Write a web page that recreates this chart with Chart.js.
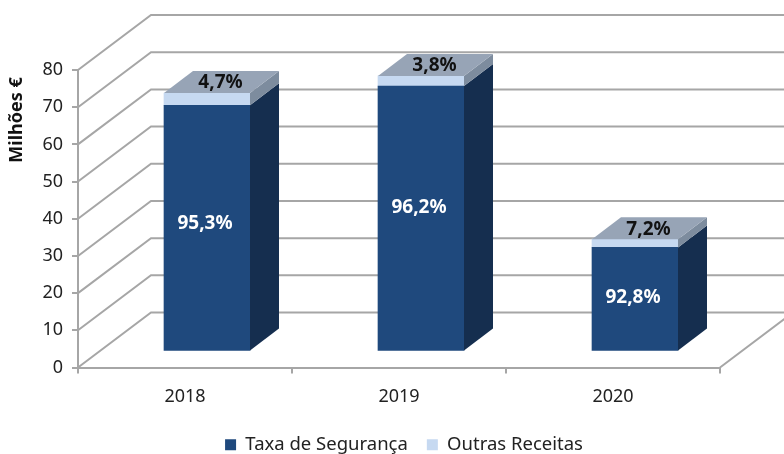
<!DOCTYPE html>
<html>
<head>
<meta charset="utf-8">
<style>
  html, body { margin: 0; padding: 0; background: #fff; }
  canvas { display: block; }
</style>
<script src="https://cdn.jsdelivr.net/npm/chart.js@4"></script>
</head>
<body>
<canvas id="receitas" width="784" height="454"></canvas>
<script>
const years = ["2018", "2019", "2020"];
const taxaSeguranca = [66.2, 71.4, 28.0];
const outrasReceitas = [3.3, 2.7, 2.2];
const taxaLabels = ["95,3%", "96,2%", "92,8%"];
const outrasLabels = ["4,7%", "3,8%", "7,2%"];
const yTicks = [0, 10, 20, 30, 40, 50, 60, 70, 80];

const font = "'Noto Sans', sans-serif";
const gridColor = "#a6a6a6";

// fake 3D: how far the back wall and the bar depth are shifted, in px
const wall = { dx: 73, dy: -55 };
const barShift = { dx: 22, dy: -16 };
const barDepth = { dx: 29, dy: -22 };
const labelLift = [4, 11, 1];

function face(ctx, pts, color) {
  ctx.fillStyle = color;
  ctx.beginPath();
  pts.forEach((p, i) => (i ? ctx.lineTo(p[0], p[1]) : ctx.moveTo(p[0], p[1])));
  ctx.closePath();
  ctx.fill();
}

const box3d = {
  id: "box3d",
  afterLayout(chart) {
    // legend sits a bit right of the canvas centre
    const lg = chart.legend;
    const w = lg.right - lg.left;
    lg.left = 404 - w / 2;
    lg.right = 404 + w / 2;
  },
  beforeDatasetsDraw(chart) {
    const { ctx, chartArea: a, scales } = chart;
    ctx.save();
    ctx.strokeStyle = gridColor;
    ctx.lineWidth = 2;
    ctx.beginPath();
    yTicks.forEach((v) => {
      const y = scales.y.getPixelForValue(v);
      ctx.moveTo(a.left, y);
      ctx.lineTo(a.left + wall.dx, y + wall.dy);
      ctx.lineTo(a.right + wall.dx, y + wall.dy);
    });
    ctx.moveTo(a.right, a.bottom);
    ctx.lineTo(a.right + wall.dx, a.bottom + wall.dy);
    ctx.stroke();
    ctx.restore();

    // bars stand forward of the axis floor
    ctx.save();
    ctx.translate(barShift.dx, barShift.dy);
  },
  afterDatasetsDraw(chart) {
    const { ctx } = chart;
    const blue = chart.getDatasetMeta(0).data;
    const light = chart.getDatasetMeta(1).data;
    const dx = barDepth.dx, dy = barDepth.dy;

    blue.forEach((b, i) => {
      const t = light[i];
      const half = b.width / 2;
      const l = b.x - half, r = b.x + half;
      face(ctx, [[r, b.base], [r + dx, b.base + dy], [r + dx, b.y + dy], [r, b.y]], "#152e4f");
      face(ctx, [[r, b.y], [r + dx, b.y + dy], [r + dx, t.y + dy], [r, t.y]], "#7d8c9e");
      face(ctx, [[l, t.y], [l + dx, t.y + dy], [r + dx, t.y + dy], [r, t.y]], "#97a4b6");

      ctx.textAlign = "center";
      ctx.textBaseline = "middle";
      ctx.font = "bold 19px " + font;
      ctx.fillStyle = "#fff";
      ctx.fillText(taxaLabels[i], b.x - 2, (b.y + b.base) / 2 - labelLift[i]);
      ctx.fillStyle = "#111";
      ctx.fillText(outrasLabels[i], b.x + dx / 2 - 1, t.y + dy / 2 + 1);
    });
    ctx.restore();

    // axis title, sits high on the axis
    ctx.save();
    ctx.translate(17, 120);
    ctx.rotate(-Math.PI / 2);
    ctx.textAlign = "center";
    ctx.textBaseline = "middle";
    ctx.font = "bold 18px " + font;
    ctx.fillStyle = "#111";
    ctx.fillText("Milhões €", 0, 0);
    ctx.restore();
  },
};

new Chart(document.getElementById("receitas"), {
  type: "bar",
  plugins: [box3d],
  data: {
    labels: years,
    datasets: [
      { label: "Taxa de Segurança", data: taxaSeguranca, backgroundColor: "#1f497d", barThickness: 86, clip: false },
      { label: "Outras Receitas", data: outrasReceitas, backgroundColor: "#c6d9f1", barThickness: 86, clip: false },
    ],
  },
  options: {
    responsive: false,
    animation: false,
    layout: { padding: { top: 70, right: 64, left: 0, bottom: -10 } },
    plugins: {
      tooltip: { enabled: false },
      legend: {
        position: "bottom",
        labels: {
          boxWidth: 11,
          boxHeight: 11,
          padding: 19,
          color: "#222",
          font: { family: font, size: 18.5 },
        },
      },
    },
    scales: {
      x: {
        stacked: true,
        afterFit(s) { s.height = 49; },
        grid: { offset: true, drawOnChartArea: false, color: gridColor, lineWidth: 2, tickLength: 6 },
        border: { color: gridColor, width: 2 },
        ticks: { color: "#222", padding: 13, font: { family: font, size: 18 } },
      },
      y: {
        stacked: true,
        min: 0,
        max: 80,
        afterFit(s) { s.width = 78; },
        afterBuildTicks(s) { s.ticks = yTicks.map((v) => ({ value: v })); },
        grid: { drawOnChartArea: false, color: gridColor, lineWidth: 2, tickLength: 6 },
        border: { color: gridColor, width: 2 },
        ticks: { color: "#222", padding: 9, font: { family: font, size: 18 } },
      },
    },
  },
});
</script>
</body>
</html>
